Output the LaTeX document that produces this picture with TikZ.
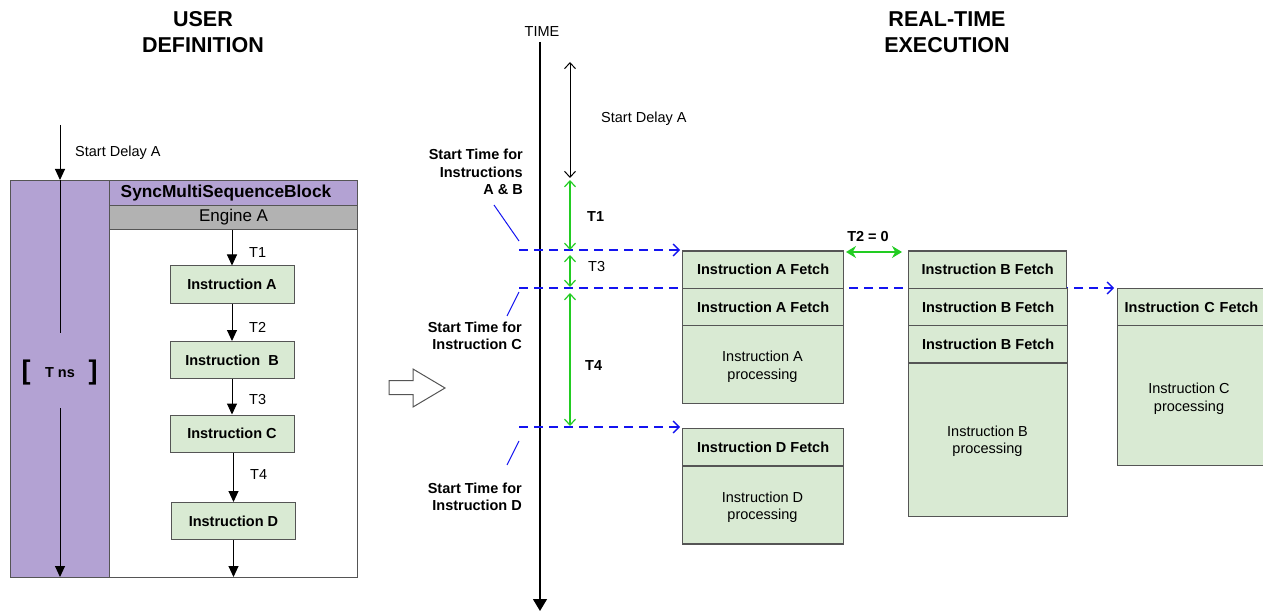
\documentclass[tikz,border=0pt]{standalone}
\usepackage{fontspec}
\setmainfont{Liberation Sans}
\usetikzlibrary{arrows.meta}
\definecolor{purp}{HTML}{B3A2D3}
\definecolor{grayhdr}{HTML}{B2B2B2}
\definecolor{boxfill}{HTML}{D9EAD3}
\definecolor{boxline}{HTML}{555555}
\definecolor{tblue}{HTML}{1414F0}
\definecolor{tgreen}{HTML}{22CC22}
\tikzset{
  fnt/.style={font=\fontsize{14.5}{17.5}\selectfont},
  bfnt/.style={font=\fontsize{14.5}{17.5}\selectfont\bfseries},
  ttl/.style={font=\fontsize{21.5}{26}\selectfont\bfseries, align=center, inner sep=0pt},
  lbl/.style={fnt, inner sep=0pt},
  blbl/.style={bfnt, inner sep=0pt},
  instr/.style={draw=boxline, fill=boxfill, line width=1pt, minimum width=124pt, minimum height=37pt, inner sep=0pt, bfnt},
  fetchbox/.style={draw=boxline, fill=boxfill, line width=1.2pt, minimum height=37.3pt, inner sep=0pt, bfnt},
  procbox/.style={draw=boxline, fill=boxfill, line width=1.2pt, inner sep=0pt},
  proctxt/.style={fnt, align=center, inner sep=0pt},
  darr/.style={-{Triangle[width=10pt,length=11pt]}, line width=1pt},
  tdash/.style={tblue, line width=2pt, dash pattern=on 9pt off 6pt},
  tdarr/.style={tdash, -{Straight Barb[length=6pt,width=12pt,line width=1.3pt]}},
  slant/.style={tblue, line width=1pt},
  garr/.style={tgreen, line width=1.2pt, {Straight Barb[length=6pt,width=11pt]}-{Straight Barb[length=6pt,width=11pt]}},
  karr/.style={black, line width=1pt, {Straight Barb[length=6pt,width=11pt]}-{Straight Barb[length=6pt,width=11pt]}},
}
\begin{document}
\begin{tikzpicture}[x=1pt,y=-1pt]
\useasboundingbox (0,0) rectangle (1263,612);

% ---------- titles ----------
\node[ttl] (tuser) at (203,32) {USER\\DEFINITION};
\node[ttl] (treal) at (947,32) {REAL-TIME\\EXECUTION};

% ---------- left panel ----------
\node[draw=boxline, fill=purp, line width=1.2pt, minimum width=99pt, minimum height=397pt, inner sep=0pt, anchor=north west] (pcol) at (10,180) {};
\node[draw=boxline, fill=white, line width=1.2pt, minimum width=248pt, minimum height=397pt, inner sep=0pt, anchor=north west] (body) at (109,180) {};
\node[draw=boxline, fill=purp, line width=1.2pt, minimum width=248pt, minimum height=25pt, inner sep=0pt, anchor=north west] (hdr) at (109,180) {};
\node[font=\fontsize{17.3}{20}\selectfont\bfseries, inner sep=0pt] (hdrtxt) at (226,193.5) {SyncMultiSequenceBlock};
\node[draw=boxline, fill=grayhdr, line width=1.2pt, minimum width=248pt, minimum height=24pt, inner sep=0pt, anchor=north west, font=\fontsize{17}{20}\selectfont] (eng) at (109,205) {Engine A};

\coordinate (sdtop) at (60,125);
\coordinate (sdbot) at (60,180);
\coordinate (vl1) at (60,333);
\coordinate (vl2) at (60,408);
\coordinate (vl3) at (60,577);
\draw[darr] (sdtop) -- (sdbot);
\draw[line width=1pt] (sdbot) -- (vl1);
\draw[darr] (vl2) -- (vl3);
\node[lbl, anchor=west] (sdlab) at (75,153) {Start Delay A};
\node[font=\fontsize{27}{29}\selectfont\bfseries, inner sep=0pt] (lbr) at (26,373) {[};
\node[font=\fontsize{27}{29}\selectfont\bfseries, inner sep=0pt] (rbr) at (93,373) {]};
\node[blbl] (tns) at (60,373) {T ns};

\node[instr] (ia) at (232,284.5) {Instruction A};
\node[instr] (ib) at (232,360) {Instruction\ \ B};
\node[instr] (ic) at (232,433.5) {Instruction C};
\node[instr] (id) at (233.5,521) {Instruction D};
\coordinate (dend) at (233.5,577);
\draw[darr] (eng.south -| ia.north) -- (ia.north);
\draw[darr] (ia) -- (ib);
\draw[darr] (ib) -- (ic);
\draw[darr] (ic.south -| id.north) -- (id.north);
\draw[darr] (id.south) -- (dend);
\node[lbl, anchor=west] at (249,253) {T1};
\node[lbl, anchor=west] at (249,327) {T2};
\node[lbl, anchor=west] at (249,400) {T3};
\node[lbl, anchor=west] at (250,475) {T4};

% ---------- hollow arrow ----------
\draw[draw=boxline, fill=white, line width=1pt] (389,380.5) -- (413,380.5) -- (413,369) -- (445,388) -- (413,407) -- (413,394.5) -- (389,394.5) -- cycle;

% ---------- time axis ----------
\node[lbl] (time) at (542,32) {TIME};
\coordinate (ax0) at (540,42);
\coordinate (ax1) at (540,611);
\draw[line width=1.2pt, -{Triangle[width=14pt,length=12pt]}] (ax0) -- (ax1);

% ---------- dashed start-time lines ----------
\coordinate (d1s) at (519,250);
\coordinate (d1e) at (680,250);
\coordinate (d2s) at (519,288);
\coordinate (d2e) at (1114,288);
\coordinate (d3s) at (519,427);
\coordinate (d3e) at (680,427);
\draw[tdarr] (d1s) -- (d1e);
\draw[tdarr] (d2s) -- (d2e);
\draw[tdarr] (d3s) -- (d3e);

% ---------- start delay / T arrows ----------
\coordinate (g0) at (570,62);
\coordinate (g1) at (570,178);
\coordinate (g2) at (570,180);
\coordinate (g3) at (570,250);
\coordinate (g4) at (570,255);
\coordinate (g5) at (570,287);
\coordinate (g6) at (570,293);
\coordinate (g7) at (570,426);
\draw[karr] (g0) -- (g1);
\draw[garr] (g2) -- (g3);
\draw[garr] (g4) -- (g5);
\draw[garr] (g6) -- (g7);
\node[lbl, anchor=west] at (601,119) {Start Delay A};
\node[blbl, anchor=west] at (587,217) {T1};
\node[lbl, anchor=west] at (588,267) {T3};
\node[blbl, anchor=west] at (585,366) {T4};

% ---------- start time labels ----------
\node[blbl, anchor=east, align=right] (stab) at (523,172) {Start Time for\\Instructions\\A \& B};
\node[blbl, anchor=east, align=right] (stc) at (522,336) {Start Time for\\Instruction C};
\node[blbl, anchor=east, align=right] (std) at (522,497) {Start Time for\\Instruction D};
\coordinate (s1a) at (494,205);
\coordinate (s1b) at (519,241);
\coordinate (s2a) at (519,292);
\coordinate (s2b) at (507,316);
\coordinate (s3a) at (519,441);
\coordinate (s3b) at (507,465);
\draw[slant] (s1a) -- (s1b);
\draw[slant] (s2a) -- (s2b);
\draw[slant] (s3a) -- (s3b);

% ---------- execution blocks ----------
% column A
\node[fetchbox, minimum width=161pt, anchor=north west] (af1) at (682,250.5) {Instruction A Fetch};
\node[fetchbox, minimum width=161pt, anchor=north west] (af2) at (682,287.8) {Instruction A Fetch};
\node[procbox, minimum width=161pt, minimum height=78pt, anchor=north west] (ap) at (682,325) {};
\node[proctxt] at (762.5,367) {Instruction A\\processing};
% column D
\node[fetchbox, minimum width=161pt, anchor=north west] (df) at (682,428) {Instruction D Fetch};
\node[procbox, minimum width=161pt, minimum height=78pt, anchor=north west] (dp) at (682,465.3) {};
\node[proctxt] at (762.5,507) {Instruction D\\processing};
% column B
\node[fetchbox, minimum width=158pt, anchor=north west] (bf1) at (908,250.5) {Instruction B Fetch};
\node[fetchbox, minimum width=159pt, anchor=north west] (bf2) at (908,287.8) {Instruction B Fetch};
\node[fetchbox, minimum width=159pt, anchor=north west] (bf3) at (908,325) {Instruction B Fetch};
\node[procbox, minimum width=159pt, minimum height=153.5pt, anchor=north west] (bp) at (908,362.3) {};
\node[proctxt] at (987.5,441) {Instruction B\\processing};
% column C
\node[fetchbox, minimum width=150pt, anchor=north west, text width=146pt, align=left] (cf) at (1117,287.8) {\hspace*{5pt}Instruction C Fetch};
\node[procbox, minimum width=150pt, minimum height=140pt, anchor=north west] (cp) at (1117,325) {};
\node[proctxt] at (1189,398.5) {Instruction C\\processing};

% ---------- T2 = 0 ----------
\coordinate (t2a) at (846,252);
\coordinate (t2b) at (902,252);
\draw[tgreen, line width=1.5pt, {Stealth[length=10pt,width=12pt]}-{Stealth[length=10pt,width=12pt]}] (t2a) -- (t2b);
\node[blbl] (t2lab) at (868,237) {T2 = 0};
\end{tikzpicture}
\end{document}
